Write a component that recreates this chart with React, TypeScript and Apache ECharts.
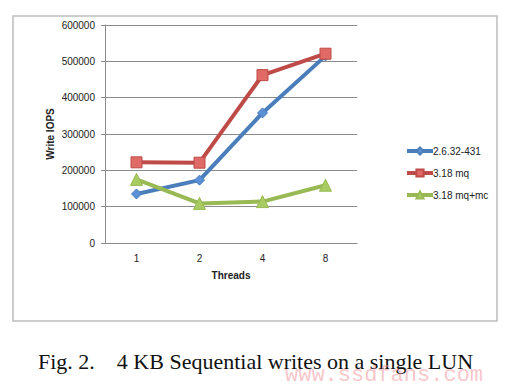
import React, { useEffect, useRef } from "react";
import * as echarts from "echarts";

const threads = ["1", "2", "4", "8"];
const seriesNames = ["2.6.32-431", "3.18 mq", "3.18 mq+mc"];
const kernel2632 = [135000, 173000, 358000, 515000];
const mq318 = [222000, 221000, 462000, 521000];
const mqmc318 = [175000, 109000, 114000, 159000];
const yTicks = { min: 0, max: 600000, interval: 100000 };
const caption = "Fig. 2.    4 KB Sequential writes on a single LUN";
const watermark = "www.ssdfans.com";

const FONT = "'Liberation Sans', 'DejaVu Sans', sans-serif";

export default function App() {
  const ref = useRef<HTMLDivElement>(null);
  useEffect(() => {
    if (!ref.current) return;
    const chart = echarts.init(ref.current, undefined, { renderer: "svg" });
    const mk = (
      name: string,
      data: number[],
      color: string,
      fill: string,
      symbol: string,
      size: number
    ) => ({
      name,
      type: "line",
      data,
      symbol,
      symbolSize: size,
      lineStyle: { color, width: 4 },
      itemStyle: { color: fill, borderColor: color, borderWidth: 1 },
      emphasis: { disabled: true },
    });
    chart.setOption({
      animation: false,
      backgroundColor: "#ffffff",
      textStyle: { fontFamily: FONT },
      grid: { left: 105, top: 25, width: 252, height: 218, containLabel: false },
      xAxis: {
        type: "category",
        data: threads,
        boundaryGap: true,
        name: "Threads",
        nameLocation: "middle",
        nameGap: 27,
        nameTextStyle: { fontSize: 10, fontWeight: "bold", color: "#222", fontFamily: FONT },
        axisLine: { lineStyle: { color: "#8a8a8a", width: 1 } },
        axisTick: { show: false },
        axisLabel: { fontSize: 10, color: "#222", margin: 10, fontFamily: FONT },
      },
      yAxis: {
        type: "value",
        min: yTicks.min,
        max: yTicks.max,
        interval: yTicks.interval,
        name: "Write IOPS",
        nameLocation: "middle",
        nameGap: 50,
        nameTextStyle: { fontSize: 10, fontWeight: "bold", color: "#222", fontFamily: FONT },
        axisLine: { show: true, lineStyle: { color: "#8a8a8a", width: 1 } },
        axisTick: { show: true, length: 4, lineStyle: { color: "#8a8a8a" } },
        axisLabel: {
          fontSize: 10,
          color: "#222",
          margin: 10,
          fontFamily: FONT,
          formatter: (v: number) => String(v),
        },
        splitLine: { lineStyle: { color: "#8a8a8a", width: 1 } },
      },
      legend: {
        orient: "vertical",
        left: 400,
        top: 141,
        itemGap: 12,
        itemWidth: 26,
        itemHeight: 9,
        lineStyle: { width: 4 },
        textStyle: { fontSize: 10, color: "#222", fontFamily: FONT, padding: [0, 0, 0, -5] },
        data: seriesNames,
      },
      series: [
        mk(seriesNames[0], kernel2632, "#4a7ebb", "#5b8fd6", "diamond", 10),
        mk(seriesNames[1], mq318, "#be4b48", "#e06a66", "rect", 11),
        mk(seriesNames[2], mqmc318, "#98b954", "#a9cc62", "triangle", 12),
      ],
      graphic: [
        {
          type: "rect",
          shape: { x: 13, y: 16, width: 484, height: 305 },
          style: { fill: "none", stroke: "#bdbdbd", lineWidth: 1.5 },
          z: -1,
        },
        {
          type: "text",
          x: 38,
          y: 350,
          style: {
            text: caption,
            font: "22px 'Liberation Serif', 'Times New Roman', serif",
            fill: "#111",
          },
        },
        {
          type: "text",
          x: 285,
          y: 364,
          style: {
            text: watermark,
            font: "22px 'Liberation Mono', 'DejaVu Sans Mono', monospace",
            fill: "rgba(240,150,160,0.55)",
          },
        },
      ],
    });
    return () => chart.dispose();
  }, []);
  return (
    <div
      ref={ref}
      style={{ position: "fixed", left: 0, top: 0, width: 512, height: 386 }}
    />
  );
}
